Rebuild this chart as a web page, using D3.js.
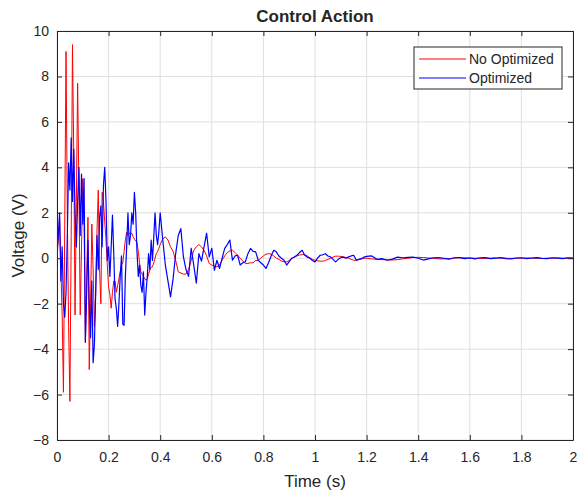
<!DOCTYPE html>
<html>
<head>
<meta charset="utf-8">
<script src="https://cdn.jsdelivr.net/npm/d3@7"></script>
<style>
  body { margin: 0; background: #fff; }
  text { font-family: "Liberation Sans", Arial, sans-serif; fill: #262626; }
</style>
</head>
<body>
<div id="chart"></div>
<script>
// sample times: 0-0.4 every 5 ms, 0.41-1.2 every 10 ms, 1.22-2.0 every 20 ms
const timeA = d3.range(81).map(i => +(i * 0.005).toFixed(3));
const timeB = d3.range(1, 81).map(i => +(0.4 + i * 0.01).toFixed(3));
const timeC = d3.range(1, 41).map(i => +(1.2 + i * 0.02).toFixed(3));

// No Optimized (red)
const redA = [0, 0.8, 1.8, -0.5, -2.5, -5.9, 1.5, 9.1, 2.0, -3.0,
  -6.3, 1.0, 9.4, 4.5, -2.5, 2.5, 7.7, 3.0, -2.5, 0.5,
  3.5, 1.5, -3.7, -1.0, 1.8, -4.9, -2.0, 1.5, -0.5, -3.0,
  -1.5, 1.2, 3.0, -0.5, -2.0, 2.9, 2.5, 1.6, 0.8, -0.3,
  -1.26, -1.6, -2.2, -1.5, -1.0, -1.0, -1.5, -1.2, -0.9, -0.6,
  -0.3, -0.2, 0.3, 0.8, 1.15, 1.0, 1.1, 1.1, 1.1, 0.95,
  0.85, 0.75, 0.7, 0.3, -0.2, -0.6, -0.7, -0.8, -0.9, -0.97,
  -0.9, -0.7, -0.5, -0.4, -0.38, -0.2, 0.0, 0.2, 0.3, 0.44,
  0.6];
const redB = [0.85, 0.94, 0.8, 0.5, 0.3, -0.1, -0.6, -0.65, -0.7, -0.7,
  -0.5, -0.1, 0.35, 0.5, 0.6, 0.5, 0.35, 0.1, -0.23, -0.3,
  -0.35, -0.38, -0.3, -0.09, 0.1, 0.25, 0.32, 0.35, 0.25, 0.13,
  0.0, -0.12, -0.23, -0.23, -0.2, -0.2, -0.1, -0.09, 0.0, 0.1,
  0.18, 0.2, 0.18, 0.1, 0.0, -0.05, -0.12, -0.16, -0.16, -0.1,
  -0.02, 0.06, 0.1, 0.14, 0.16, 0.16, 0.1, 0.02, -0.05, -0.09,
  -0.11, -0.13, -0.13, -0.1, -0.05, 0.0, 0.05, 0.09, 0.09, 0.08,
  0.06, 0.03, 0.0, -0.05, -0.09, -0.09, -0.06, -0.03, 0.0, 0.0];
const redC = [-0.03, -0.05, -0.06, -0.07, -0.08, -0.06, -0.03, 0.0, 0.03, 0.04,
  0.03, 0.01, -0.01, -0.03, -0.03, -0.02, 0.0, 0.02, 0.02, 0.01,
  0.0, -0.01, -0.01, 0.0, 0.01, 0.01, 0.0, -0.01, 0.0, 0.0,
  0.01, 0.0, 0.0, -0.01, 0.0, 0.0, 0.01, 0.0, 0.0, 0.0];

// Optimized (blue)
const blueA = [0.3, 1.0, 2.0, -1.0, 0.5, -2.0, -2.6, -1.5, 1.0, 4.2,
  3.0, 5.3, 2.5, 4.8, 2.0, 0.5, 2.5, 4.0, 1.0, 3.7,
  1.5, 3.5, -3.7, -1.5, 0.8, -2.0, -3.5, -1.0, -4.6, -3.8,
  -1.5, 1.0, -0.5, 1.8, 2.3, 0.5, 3.2, 4.0, 2.5, -0.1,
  0.5, -0.8, 0.5, 1.9, 0.2, -1.8, -2.2, -3.0, -2.0, -0.8,
  0.1, -2.9, -2.95, -0.8, 0.5, 2.0, 0.6, 1.0, 2.0, 1.5,
  2.9, 2.0, 0.3, -0.8, -0.3, -1.2, -1.5, -0.6, -2.5, -1.5,
  -0.8, 0.2, -0.5, 0.8, -0.1, 0.9, 2.0, 1.0, 0.6, 1.2,
  2.0];
const blueB = [0.8, -0.3, -1.0, -1.7, -0.9, 0.2, 1.0, 1.3, 0.06, -0.5,
  -0.8, 0.44, -0.3, -1.1, 0.2, -0.13, 0.5, 1.1, 0.06, 0.44,
  -0.53, -0.09, -0.45, 0.0, 0.43, 0.6, 0.8, -0.09, 0.1, 0.13,
  -0.3, -0.2, -0.16, 0.2, 0.43, 0.3, 0.28, -0.09, -0.2, -0.3,
  -0.45, -0.2, 0.1, 0.35, 0.28, 0.1, 0.0, -0.09, -0.3, -0.15,
  0.0, 0.05, 0.13, 0.25, 0.35, 0.13, 0.05, 0.0, -0.1, -0.16,
  0.0, 0.13, 0.15, 0.2, 0.1, 0.06, -0.05, -0.16, -0.05, 0.02,
  0.05, 0.0, 0.06, 0.1, 0.13, -0.09, -0.05, -0.02, 0.05, 0.08];
const blueC = [0.1, -0.05, -0.02, -0.09, -0.04, 0.05, 0.02, 0.04, 0.05, 0.0,
  -0.08, -0.03, 0.02, 0.03, 0.0, -0.04, 0.02, 0.03, -0.02, 0.01,
  -0.03, 0.02, 0.03, -0.02, 0.0, 0.03, -0.02, -0.03, 0.01, 0.02,
  -0.02, 0.01, 0.03, -0.01, -0.02, 0.02, 0.0, -0.02, 0.02, 0.01];

const xTicks = [0, 0.2, 0.4, 0.6, 0.8, 1, 1.2, 1.4, 1.6, 1.8, 2];
const yTicks = [-8, -6, -4, -2, 0, 2, 4, 6, 8, 10];
const seriesNames = ["No Optimized", "Optimized"];
const seriesColors = ["#ff0000", "#0000ff"];

const time = timeA.concat(timeB, timeC);
const red = redA.concat(redB, redC);
const blue = blueA.concat(blueB, blueC);

const width = 579, height = 490;
const margin = { top: 31, right: 6, bottom: 50, left: 57 };
const innerW = width - margin.left - margin.right;
const innerH = height - margin.top - margin.bottom;

const svg = d3.select("#chart").append("svg")
  .attr("width", width).attr("height", height)
  .style("background", "#fff");

const g = svg.append("g").attr("transform", `translate(${margin.left},${margin.top})`);

const x = d3.scaleLinear().domain([0, 2]).range([0, innerW]);
const y = d3.scaleLinear().domain([-8, 10]).range([innerH, 0]);

// grid
g.append("g").selectAll("line").data(xTicks).join("line")
  .attr("x1", d => x(d)).attr("x2", d => x(d))
  .attr("y1", 0).attr("y2", innerH)
  .attr("stroke", "#dfdfdf").attr("stroke-width", 1);
g.append("g").selectAll("line").data(yTicks).join("line")
  .attr("x1", 0).attr("x2", innerW)
  .attr("y1", d => y(d)).attr("y2", d => y(d))
  .attr("stroke", "#dfdfdf").attr("stroke-width", 1);

// lines
g.append("clipPath").attr("id", "clip")
  .append("rect").attr("width", innerW).attr("height", innerH);

const line = d3.line()
  .x(d => x(d[0]))
  .y(d => y(d[1]));

[red, blue].forEach((vals, k) => {
  g.append("path")
    .datum(time.map((t, i) => [t, vals[i]]))
    .attr("clip-path", "url(#clip)")
    .attr("fill", "none")
    .attr("stroke", seriesColors[k])
    .attr("stroke-width", k === 1 ? 1.2 : 1)
    .attr("stroke-linejoin", "round")
    .attr("d", line);
});

// axes (ticks inward, like matlab)
const styleAxis = sel => {
  sel.select(".domain").attr("stroke", "#262626");
  sel.selectAll(".tick line").attr("stroke", "#262626");
  sel.selectAll(".tick text").style("font-size", "14px").attr("fill", "#262626");
};

g.append("g").attr("transform", `translate(0,${innerH})`)
  .call(d3.axisBottom(x).tickValues(xTicks).tickFormat(d3.format("")).tickSizeInner(-5).tickSizeOuter(0).tickPadding(12))
  .call(styleAxis);
g.append("g")
  .call(d3.axisTop(x).tickValues(xTicks).tickFormat("").tickSizeInner(-5).tickSizeOuter(0))
  .call(styleAxis);
g.append("g")
  .call(d3.axisLeft(y).tickValues(yTicks).tickFormat(d3.format("")).tickSizeInner(-5).tickSizeOuter(0).tickPadding(8))
  .call(styleAxis);
g.append("g").attr("transform", `translate(${innerW},0)`)
  .call(d3.axisRight(y).tickValues(yTicks).tickFormat("").tickSizeInner(-5).tickSizeOuter(0))
  .call(styleAxis);

// titles
svg.append("text")
  .attr("x", margin.left + innerW / 2).attr("y", 22)
  .attr("text-anchor", "middle")
  .style("font-size", "17px").style("font-weight", "bold")
  .attr("fill", "#000")
  .text("Control Action");

svg.append("text")
  .attr("x", margin.left + innerW / 2).attr("y", 487)
  .attr("text-anchor", "middle")
  .style("font-size", "17px")
  .text("Time (s)");

svg.append("text")
  .attr("transform", `translate(24,${margin.top + innerH / 2}) rotate(-90)`)
  .attr("text-anchor", "middle")
  .style("font-size", "17px")
  .text("Voltage (V)");

// legend
const leg = svg.append("g").attr("transform", "translate(414,47)");
leg.append("rect")
  .attr("width", 148).attr("height", 42)
  .attr("fill", "#fff").attr("stroke", "#262626").attr("stroke-width", 1);
seriesNames.forEach((name, i) => {
  const row = leg.append("g").attr("transform", `translate(0,${12 + i * 19})`);
  row.append("line")
    .attr("x1", 5).attr("x2", 52)
    .attr("stroke", seriesColors[i]).attr("stroke-width", 1);
  row.append("text")
    .attr("x", 55).attr("dy", "0.35em")
    .style("font-size", "14px").attr("fill", "#000")
    .text(name);
});
</script>
</body>
</html>
